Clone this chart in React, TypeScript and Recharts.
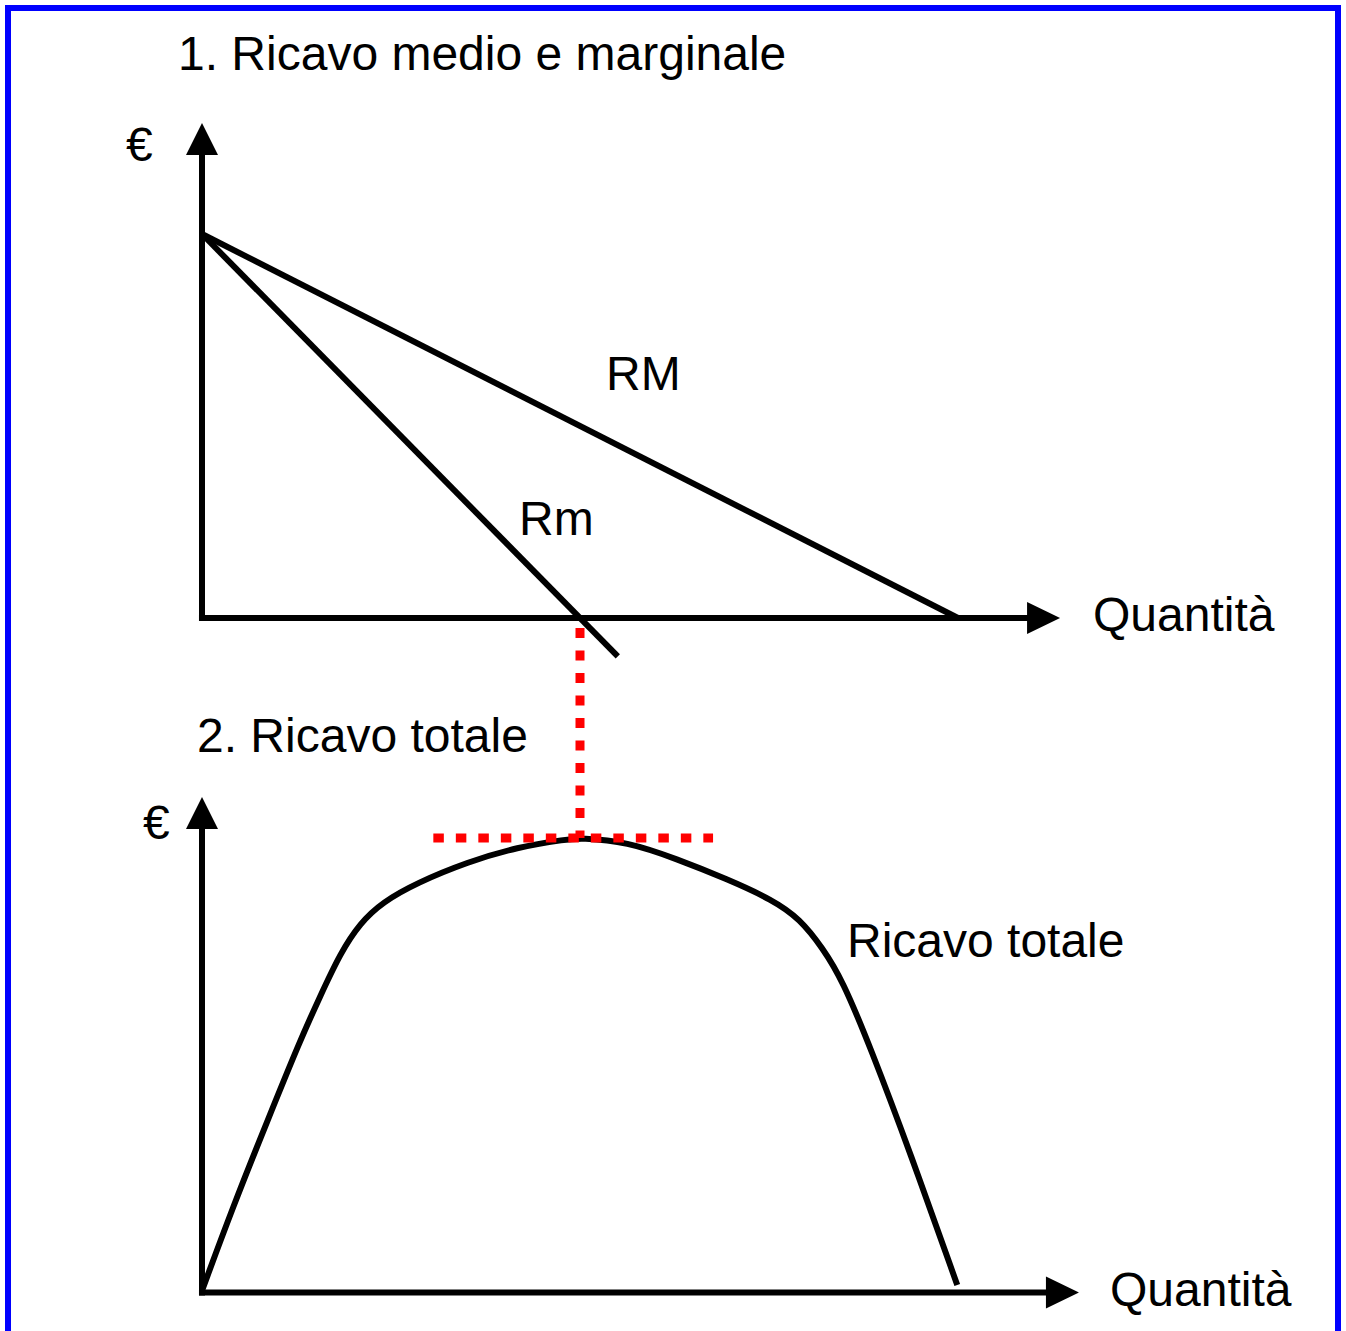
import { Line, LineChart, ReferenceDot, ReferenceLine, XAxis, YAxis } from "recharts";

// quantità (asse orizzontale comune ai due grafici)
const rmQ = [0, 10];
const rmValues = [10, 0];

const rmgQ = [0, 5.5];
const rmgValues = [10, -1];

// ricavo totale
const rtQ = [
  0, 0.41, 0.86, 1.3, 1.56, 1.83, 2.09, 2.39, 2.84, 3.51, 4.17, 4.83, 5, 5.62, 6.28, 6.94,
  7.55, 7.91, 8.21, 8.47, 8.84, 9.37, 9.99,
];
const rtValues = [
  0.1, 4.72, 9.39, 13.89, 16.27, 18.67, 20.32, 21.48, 22.53, 23.68, 24.5, 24.93, 25, 24.8,
  23.85, 22.75, 21.6, 20.55, 18.95, 17.2, 13.5, 7.67, 0.41,
];

const peakQ = 5;
const peakRT = 25;
const tangentFrom = 3.06;
const tangentTo = 6.76;

const title1 = "1. Ricavo medio e marginale";
const title2 = "2. Ricavo totale";
const euro = "€";
const quantity = "Quantità";
const rmLabel = "RM";
const rmgLabel = "Rm";
const rtLabel = "Ricavo totale";

// layout (pixel)
const W = 1346;
const H = 1331;
const X0 = 202;
const X_UNIT = 75.6;
const X_DOMAIN: [number, number] = [-1, 11.6];
const PLOT_TOP = 100;
const PLOT_BOTTOM = 1320;
const TOP_ZERO = 618;
const TOP_UNIT = 38.4;
const BOT_ZERO = 1292.5;
const BOT_UNIT = 18.18;

const topDomain: [number, number] = [
  -(PLOT_BOTTOM - TOP_ZERO) / TOP_UNIT,
  (TOP_ZERO - PLOT_TOP) / TOP_UNIT,
];
const bottomDomain: [number, number] = [
  -(PLOT_BOTTOM - BOT_ZERO) / BOT_UNIT,
  (BOT_ZERO - PLOT_TOP) / BOT_UNIT,
];

const marginLeft = X0 + X_DOMAIN[0] * X_UNIT;
const marginRight = W - (X0 + X_DOMAIN[1] * X_UNIT);

const FONT = '"Liberation Sans", Arial, sans-serif';
const RED = "#ff0000";

const rmData = rmQ.map((q, i) => ({ q, value: rmValues[i] }));
const rmgData = rmgQ.map((q, i) => ({ q, value: rmgValues[i] }));
const rtData = rtQ.map((q, i) => ({ q, value: rtValues[i] }));

function UpArrow(props: any) {
  const { cx, cy } = props;
  return <polygon points={`${cx},${cy} ${cx - 16},${cy + 32} ${cx + 16},${cy + 32}`} fill="#000" />;
}

function RightArrow(props: any) {
  const { cx, cy } = props;
  return <polygon points={`${cx},${cy} ${cx - 33},${cy - 16} ${cx - 33},${cy + 16}`} fill="#000" />;
}

export default function App() {
  return (
    <div
      style={{
        position: "absolute",
        left: 0,
        top: 0,
        width: W,
        height: H,
        overflow: "hidden",
        background: "#fff",
      }}
    >
      <div
        style={{
          position: "absolute",
          left: 5,
          top: 5,
          width: 1336,
          height: 1345,
          border: "6px solid #0000ff",
          boxSizing: "border-box",
        }}
      />

      <div style={{ position: "absolute", left: 0, top: 0 }}>
        <LineChart
          width={W}
          height={H}
          margin={{ top: PLOT_TOP, bottom: H - PLOT_BOTTOM, left: marginLeft, right: marginRight }}
        >
          <XAxis type="number" dataKey="q" domain={X_DOMAIN} allowDataOverflow hide />
          <YAxis yAxisId="top" type="number" domain={topDomain} allowDataOverflow hide />
          <YAxis yAxisId="bottom" type="number" domain={bottomDomain} allowDataOverflow hide />

          {/* assi del grafico 1 */}
          <ReferenceLine
            yAxisId="top"
            segment={[{ x: 0, y: -0.08 }, { x: 0, y: 12.2 }]}
            stroke="#000"
            strokeWidth={6}
          />
          <ReferenceLine
            yAxisId="top"
            segment={[{ x: -0.04, y: 0 }, { x: 10.95, y: 0 }]}
            stroke="#000"
            strokeWidth={6}
          />
          <ReferenceDot yAxisId="top" x={0} y={12.89} shape={UpArrow} />
          <ReferenceDot yAxisId="top" x={11.35} y={0} shape={RightArrow} />

          {/* assi del grafico 2 */}
          <ReferenceLine
            yAxisId="bottom"
            segment={[{ x: 0, y: -0.17 }, { x: 0, y: 25.6 }]}
            stroke="#000"
            strokeWidth={6}
          />
          <ReferenceLine
            yAxisId="bottom"
            segment={[{ x: -0.04, y: 0 }, { x: 11.2, y: 0 }]}
            stroke="#000"
            strokeWidth={6}
          />
          <ReferenceDot yAxisId="bottom" x={0} y={27.25} shape={UpArrow} />
          <ReferenceDot yAxisId="bottom" x={11.6} y={0} shape={RightArrow} />

          <Line
            yAxisId="top"
            data={rmData}
            dataKey="value"
            type="linear"
            stroke="#000"
            strokeWidth={6}
            dot={false}
            activeDot={false}
            isAnimationActive={false}
          />
          <Line
            yAxisId="top"
            data={rmgData}
            dataKey="value"
            type="linear"
            stroke="#000"
            strokeWidth={6}
            dot={false}
            activeDot={false}
            isAnimationActive={false}
          />
          <Line
            yAxisId="bottom"
            data={rtData}
            dataKey="value"
            type="basis"
            stroke="#000"
            strokeWidth={6}
            dot={false}
            activeDot={false}
            isAnimationActive={false}
          />

          {/* massimo del ricavo totale: Rm = 0 */}
          <ReferenceLine
            yAxisId="bottom"
            segment={[{ x: peakQ, y: 36.55 }, { x: peakQ, y: peakRT }]}
            stroke={RED}
            strokeWidth={9}
            strokeDasharray="10 12.5"
          />
          <ReferenceLine
            yAxisId="bottom"
            segment={[{ x: tangentFrom, y: peakRT }, { x: tangentTo, y: peakRT }]}
            stroke={RED}
            strokeWidth={9}
            strokeDasharray="10.5 12"
          />
        </LineChart>
      </div>

      <svg
        width={W}
        height={H}
        style={{ position: "absolute", left: 0, top: 0, pointerEvents: "none" }}
        fontFamily={FONT}
        fontSize={48}
        fill="#000"
      >
        <text x={178} y={70}>{title1}</text>
        <text x={126} y={161}>{euro}</text>
        <text x={606} y={390}>{rmLabel}</text>
        <text x={519} y={535}>{rmgLabel}</text>
        <text x={1093} y={631}>{quantity}</text>
        <text x={197} y={752}>{title2}</text>
        <text x={143} y={839}>{euro}</text>
        <text x={847} y={957}>{rtLabel}</text>
        <text x={1110} y={1306}>{quantity}</text>
      </svg>
    </div>
  );
}
